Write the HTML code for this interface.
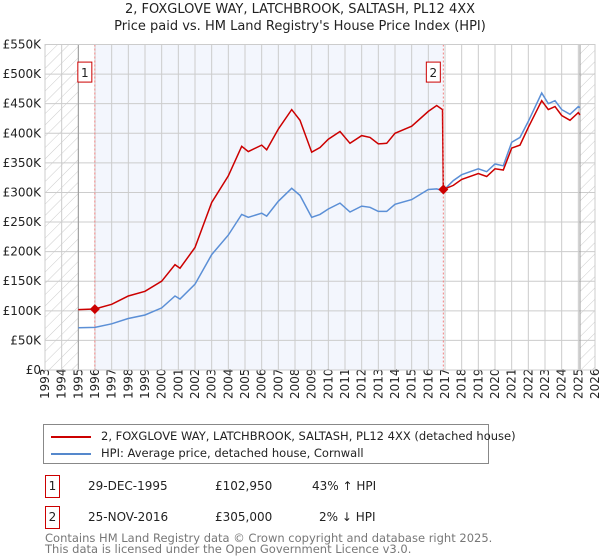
<!DOCTYPE html>
<html><head><meta charset="utf-8"><style>
body{margin:0;width:600px;height:560px;background:#fff;font-family:"DejaVu Sans","Liberation Sans",sans-serif;overflow:hidden;position:relative}
.t{position:absolute;white-space:nowrap}
</style></head><body>
<div class="t" style="left:0;width:600px;text-align:center;top:2px;font-size:13px;color:#222">2, FOXGLOVE WAY, LATCHBROOK, SALTASH, PL12 4XX</div>
<div class="t" style="left:0;width:600px;text-align:center;top:19px;font-size:13px;color:#222">Price paid vs. HM Land Registry's House Price Index (HPI)</div>
<svg id="chart" width="600" height="420" style="position:absolute;left:0;top:0">
<defs><pattern id="hatch" width="8" height="8" patternUnits="userSpaceOnUse" patternTransform="rotate(45)"><line x1="0" y1="0" x2="0" y2="8" stroke="#ccc" stroke-width="1"/></pattern></defs>
</svg>
<div style="position:absolute;left:43px;top:424px;width:444px;height:38px;border:1px solid #888;font-size:11.5px;color:#222;white-space:nowrap">
<div style="position:absolute;left:7px;top:4px"><span style="display:inline-block;width:40px;height:2px;background:#cc0000;vertical-align:middle;margin-right:10px"></span>2, FOXGLOVE WAY, LATCHBROOK, SALTASH, PL12 4XX (detached house)</div>
<div style="position:absolute;left:7px;top:21px"><span style="display:inline-block;width:40px;height:2px;background:#5588cc;vertical-align:middle;margin-right:10px"></span>HPI: Average price, detached house, Cornwall</div>
</div>
<div style="font-size:12px;color:#222">
<div class="t" style="left:45px;top:475px;width:13px;height:21px;border:1px solid #cc0000;text-align:center;line-height:21px">1</div>
<div class="t" style="left:88px;top:479px">29-DEC-1995</div>
<div class="t" style="left:215px;top:479px">£102,950</div>
<div class="t" style="left:312px;top:479px">43% ↑ HPI</div>
</div>
<div style="font-size:12px;color:#222">
<div class="t" style="left:45px;top:506px;width:13px;height:21px;border:1px solid #cc0000;text-align:center;line-height:21px">2</div>
<div class="t" style="left:88px;top:510px">25-NOV-2016</div>
<div class="t" style="left:215px;top:510px">£305,000</div>
<div class="t" style="left:319px;top:510px">2% ↓ HPI</div>
</div>
<div class="t" style="left:45px;top:533px;font-size:11.5px;color:#777;line-height:11px">Contains HM Land Registry data © Crown copyright and database right 2025.<br>This data is licensed under the Open Government Licence v3.0.</div>
<script>
const hpiYears=[1995,1996,1997,1998,1999,2000,2000.8,2001.1,2002,2003,2004,2004.8,2005.2,2006,2006.3,2007,2007.8,2008.3,2009,2009.5,2010,2010.7,2011.3,2012,2012.5,2013,2013.5,2014,2015,2016,2016.5,2016.9,2017.5,2018,2019,2019.5,2020,2020.5,2021,2021.5,2022,2022.8,2023.2,2023.6,2024,2024.5,2025,2025.1];
const hpiValues=[71.5,72,78,87,93,105,125,120,145,195,228,263,258,265,260,285,307,295,258,263,272,282,267,277,275,268,268,280,288,305,306,303,320,330,340,335,348,345,385,393,420,468,450,455,440,432,445,443];
const propYears=[1995,1995.99,1997,1998,1999,2000,2000.8,2001.1,2002,2003,2004,2004.8,2005.2,2006,2006.3,2007,2007.8,2008.3,2009,2009.5,2010,2010.7,2011.3,2012,2012.5,2013,2013.5,2014,2015,2016,2016.5,2016.85,2016.9,2017.5,2018,2019,2019.5,2020,2020.5,2021,2021.5,2022,2022.8,2023.2,2023.6,2024,2024.5,2025,2025.1];
const propValues=[102,103,111,125,133,150,178,172,207,283,328,378,369,380,372,407,440,422,368,376,390,403,383,396,393,382,383,400,412,437,447,440,305,312,322,332,327,340,338,375,380,410,455,440,445,430,422,435,431];
const saleYears=[1995.99,2016.9];
const saleValues=[102.95,305];
const saleLabels=["1","2"];
const yTicks=[0,50,100,150,200,250,300,350,400,450,500,550];
const yTickLabels=["£0","£50K","£100K","£150K","£200K","£250K","£300K","£350K","£400K","£450K","£500K","£550K"];
const xTicks=[1993,1994,1995,1996,1997,1998,1999,2000,2001,2002,2003,2004,2005,2006,2007,2008,2009,2010,2011,2012,2013,2014,2015,2016,2017,2018,2019,2020,2021,2022,2023,2024,2025,2026];
const L=45,R=595,T=44.5,B=370;
const x=v=>L+(v-1993)/33*(R-L);
const y=v=>B-v/550*(B-T);
const svg=document.getElementById('chart');
const NS='http://www.w3.org/2000/svg';
function mk(tag,attrs){const e=document.createElementNS(NS,tag);for(const k in attrs)e.setAttribute(k,attrs[k]);svg.appendChild(e);return e;}
let r=mk('rect',{x:x(saleYears[0]),y:T,width:x(saleYears[1])-x(saleYears[0]),height:B-T,fill:'#f3f6fd'});


r=mk('rect',{x:L,y:T,width:x(1995)-L,height:B-T,fill:'url(#hatch)'});


r=mk('rect',{x:x(2025.1),y:T,width:R-x(2025.1),height:B-T,fill:'url(#hatch)'});


yTicks.forEach((v,i)=>{
 const g=mk('line',{x1:L,x2:R,y1:y(v),y2:y(v),stroke:'#ccc'});
 
 
 const t=mk('text',{x:L-4,y:y(v)+4,'text-anchor':'end','font-size':12,fill:'#222'});
 t.textContent=yTickLabels[i];
 
 
});
xTicks.forEach(v=>{
 const g=mk('line',{x1:x(v),x2:x(v),y1:T,y2:B,stroke:'#ccc'});
 
 
 const t=mk('text',{x:0,y:0,'font-size':12,fill:'#222',transform:`translate(${x(v)+4},${B+29}) rotate(-90)`});
 t.textContent=v;
 
 
});
[1995,2025.1].forEach(v=>{const l=mk('line',{x1:x(v),x2:x(v),y1:T,y2:B,stroke:'#999'});
 
 });
const pts=(xs,vs)=>xs.map((a,i)=>x(a).toFixed(1)+','+y(vs[i]).toFixed(1)).join(' ');
let p=mk('polyline',{points:pts(hpiYears,hpiValues),fill:'none',stroke:'#5b8fd6','stroke-width':1.5});


p=mk('polyline',{points:pts(propYears,propValues),fill:'none',stroke:'#cc0000','stroke-width':1.5});


saleYears.forEach((s,i)=>{
 const l=mk('line',{x1:x(s),x2:x(s),y1:T,y2:B,stroke:'#f08080','stroke-dasharray':'2,2'});
 
 
 const cx=x(s),cy=y(saleValues[i]);
 const d=mk('polygon',{points:`${cx},${cy-5} ${cx+5},${cy} ${cx},${cy+5} ${cx-5},${cy}`,fill:'#cc0000'});
 
 
 const b=mk('rect',{x:cx-17,y:y(500)-12,width:14,height:20,fill:'#fff',stroke:'#cc0000'});
 
 
 const t=mk('text',{x:cx-10,y:y(500)+3,'text-anchor':'middle','font-size':12,fill:'#222'});
 t.textContent=saleLabels[i];
 
 
});
const fr=mk('rect',{x:L,y:T,width:R-L,height:B-T,fill:'none',stroke:'#ccc'});


</script>
</body></html>
